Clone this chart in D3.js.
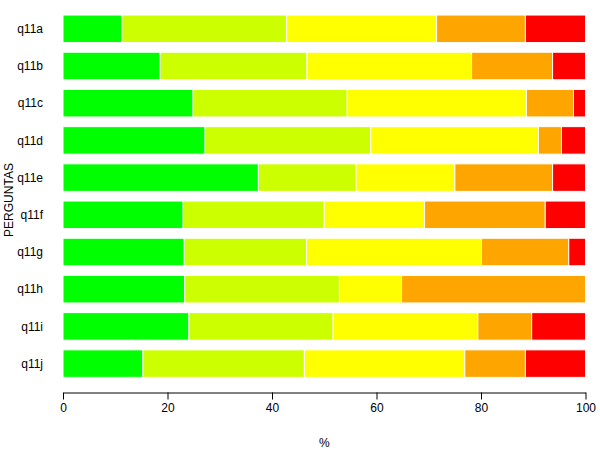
<!DOCTYPE html>
<html>
<head>
<meta charset="utf-8">
<script src="https://cdn.jsdelivr.net/npm/d3@7"></script>
<style>
  body { margin: 0; background: #fff; }
  svg text { font-family: "Liberation Sans", Arial, sans-serif; fill: #000; }
</style>
</head>
<body>
<svg id="chart" width="600" height="450"></svg>
<script>
// categories (top to bottom)
var perguntas = ["q11a", "q11b", "q11c", "q11d", "q11e", "q11f", "q11g", "q11h", "q11i", "q11j"];

// percentage of each response level, one array per level
var nivel1 = [11.3, 18.6, 24.9, 27.2, 37.4, 23.0, 23.2, 23.3, 24.1, 15.3];
var nivel2 = [31.5, 28.1, 29.5, 31.7, 18.7, 27.0, 23.4, 29.6, 27.6, 30.9];
var nivel3 = [28.7, 31.5, 34.3, 32.1, 18.9, 19.2, 33.5, 11.9, 27.7, 30.7];
var nivel4 = [17.0, 15.5,  9.0,  4.4, 18.7, 23.1, 16.7, 35.2, 10.3, 11.6];
var nivel5 = [11.5,  6.3,  2.3,  4.6,  6.3,  7.7,  3.2,  0.0, 10.3, 11.5];

var cores = ["#00ff00", "#ccff00", "#ffff00", "#ffa500", "#ff0000"];
var xTicks = [0, 20, 40, 60, 80, 100];

var series = [nivel1, nivel2, nivel3, nivel4, nivel5];

var svg = d3.select("#chart");

var x = d3.scaleLinear().domain([0, 100]).range([63, 585.5]);
var y = d3.scaleBand()
    .domain(perguntas)
    .range([10.2, 382.2])
    .paddingInner(0.26)
    .paddingOuter(0.13);

// build stacked rows
var rows = perguntas.map(function (p, i) {
  var acc = 0;
  return series.map(function (s, k) {
    var seg = { cat: p, k: k, x0: acc, x1: acc + s[i] };
    acc += s[i];
    return seg;
  });
});

var g = svg.append("g");
rows.forEach(function (segs) {
  g.selectAll(null)
    .data(segs.filter(function (d) { return d.x1 > d.x0; }))
    .enter().append("rect")
      .attr("x", function (d) { return x(d.x0); })
      .attr("y", function (d) { return y(d.cat); })
      .attr("width", function (d) { return x(d.x1) - x(d.x0); })
      .attr("height", y.bandwidth())
      .attr("fill", function (d) { return cores[d.k]; })
      .attr("stroke", "#fff")
      .attr("stroke-width", 1);
});

// category labels
svg.append("g").selectAll("text")
  .data(perguntas)
  .enter().append("text")
    .attr("x", 43)
    .attr("y", function (d) { return y(d) + y.bandwidth() / 2; })
    .attr("dy", "0.35em")
    .attr("text-anchor", "end")
    .style("font-size", "12px")
    .text(function (d) { return d; });

// x axis
var xAxis = svg.append("g")
  .attr("transform", "translate(0,392.5)")
  .call(d3.axisBottom(x).tickValues(xTicks).tickSize(7).tickPadding(4).tickSizeOuter(0));
xAxis.select(".domain").attr("stroke", "#000");
xAxis.selectAll(".tick line").attr("stroke", "#000");
xAxis.selectAll(".tick text")
  .style("font-size", "12px")
  .style("font-family", "Liberation Sans, Arial, sans-serif");

// axis titles
svg.append("text")
  .attr("x", x(50))
  .attr("y", 447)
  .attr("text-anchor", "middle")
  .style("font-size", "12px")
  .text("%");

svg.append("text")
  .attr("transform", "translate(12.5,200) rotate(-90)")
  .attr("text-anchor", "middle")
  .style("font-size", "12px")
  .text("PERGUNTAS");
</script>
</body>
</html>
